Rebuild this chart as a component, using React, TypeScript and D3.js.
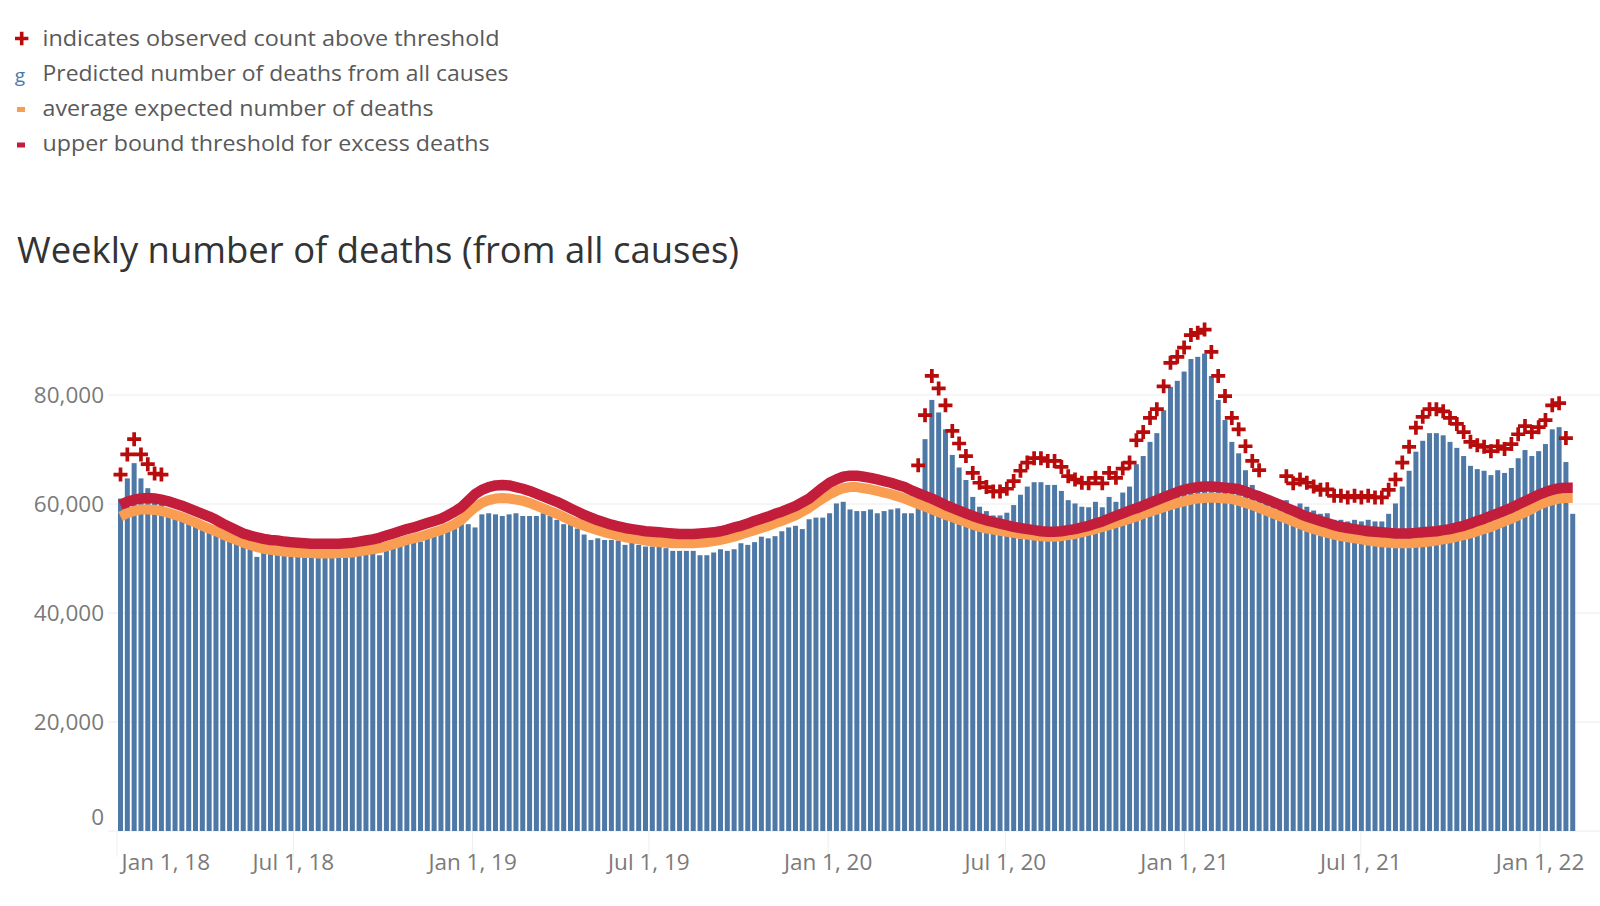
import * as d3 from "d3";

const WIDTH = 1600;
const HEIGHT = 906;

// first bar = week ending Sat Jan 6, 2018; one value per week
const FIRST_WEEK_ENDING = new Date(2018, 0, 6);

const PREDICTED = [
  61000, 64700, 67500, 64700, 62900, 61200, 61000, 58200, 57700, 57300,
  56800, 56300, 55600, 55100, 54600, 54000, 53500, 53000, 52500, 52100,
  50300, 51200, 51100, 50900, 50800, 50800, 50700, 50600, 50600, 50500,
  50500, 50400, 50600, 50600, 50700, 50900, 51100, 51300, 50600, 51800,
  52200, 52600, 53000, 53300, 53100, 54000, 54500, 54900, 55200, 55700,
  56300, 56300, 55700, 58100, 58300, 58100, 57800, 58100, 58300, 57800,
  57800, 57800, 58300, 57800, 57100, 56300, 56300, 55500, 54400, 53400,
  53700, 53400, 53400, 53300, 52500, 52900, 52500, 52200, 52200, 52200,
  51900, 51400, 51400, 51400, 51400, 50600, 50600, 51100, 51700, 51400,
  51700, 52800, 52500, 53000, 54000, 53700, 54100, 55000, 55700, 56000,
  55400, 57200, 57500, 57500, 58300, 60100, 60400, 59000, 58700, 58700,
  59000, 58300, 58700, 59000, 59200, 58300, 58300, 62700, 71900, 79100,
  76800, 73700, 69000, 66700, 64400, 61300, 59500, 58700, 57900, 57900,
  58400, 59800, 61700, 63200, 64000, 64000, 63500, 63500, 62400, 60700,
  60100, 59500, 59400, 60400, 59400, 61300, 60400, 62100, 63200, 67300,
  68800, 71400, 73000, 77200, 81500, 82600, 84300, 86600, 87000, 87600,
  83500, 79100, 75400, 71400, 69300, 66200, 63500, 61800, 60200, 59800,
  59200, 60700, 59400, 60100, 59500, 58800, 58200, 58300, 57100, 57100,
  56800, 57100, 56800, 57100, 56800, 56800, 58200, 60100, 63200, 66100,
  69600, 71600, 73000, 73000, 72600, 71400, 70300, 68800, 67000, 66400,
  66100, 65300, 66200, 65700, 66600, 68400, 69900, 68800, 69700, 71000,
  73700, 74100, 67700, 58200,
];

const EXPECTED = [
  57700, 58300, 58700, 59000, 59000, 58900, 58700, 58400, 58000, 57600,
  57100, 56600, 56000, 55500, 55000, 54400, 53900, 53400, 52900, 52500,
  52100, 51800, 51600, 51400, 51300, 51200, 51100, 51000, 51000, 50900,
  50900, 50900, 51000, 51000, 51100, 51300, 51500, 51700, 51900, 52200,
  52600, 53000, 53400, 53700, 54000, 54400, 54800, 55200, 55700, 56300,
  57100, 58300, 59400, 60200, 60700, 61000, 61100, 61000, 60800, 60600,
  60200, 59700, 59200, 58700, 58200, 57600, 57000, 56500, 56000, 55600,
  55200, 54800, 54500, 54200, 53900, 53700, 53500, 53300, 53100, 53000,
  52900, 52800, 52800, 52800, 52800, 52900, 53000, 53200, 53400, 53700,
  54000, 54400, 54800, 55200, 55600, 56000, 56500, 56900, 57400, 57900,
  58600, 59300, 60200, 61000, 61800, 62400, 62900, 63100, 63100, 62900,
  62700, 62400, 62100, 61800, 61400, 61000, 60500, 60000, 59500, 59000,
  58500, 58000, 57600, 57100, 56700, 56200, 55800, 55500, 55300, 55100,
  54900, 54700, 54500, 54400, 54200, 54100, 54000, 54000, 54100, 54300,
  54500, 54800, 55100, 55400, 55800, 56100, 56500, 56900, 57300, 57700,
  58200, 58600, 59000, 59400, 59800, 60200, 60500, 60800, 61000, 61100,
  61200, 61100, 61000, 60900, 60600, 60200, 59800, 59300, 58800, 58300,
  57800, 57300, 56800, 56300, 55800, 55400, 55000, 54700, 54400, 54100,
  53900, 53700, 53500, 53300, 53100, 53000, 52900, 52800, 52800, 52800,
  52900, 53000, 53100, 53300, 53500, 53700, 54000, 54300, 54600, 55000,
  55400, 55800, 56300, 56800, 57300, 57900, 58500, 59100, 59800, 60300,
  60700, 61000, 61100, 61100,
];

const THRESHOLD = [
  59800, 60400, 60800, 61000, 61100, 61000, 60800, 60500, 60100, 59700,
  59200, 58700, 58200, 57700, 57100, 56400, 55800, 55200, 54600, 54200,
  53900, 53600, 53400, 53300, 53100, 53000, 52900, 52800, 52700, 52700,
  52700, 52700, 52700, 52800, 52900, 53100, 53300, 53500, 53800, 54200,
  54600, 55000, 55400, 55700, 56100, 56500, 56900, 57300, 57900, 58600,
  59400, 60600, 61800, 62600, 63100, 63400, 63500, 63400, 63100, 62800,
  62400, 61900, 61400, 60900, 60400, 59800, 59200, 58600, 58000, 57500,
  57000, 56600, 56200, 55900, 55600, 55400, 55200, 55000, 54900, 54800,
  54700, 54600, 54500, 54500, 54500, 54600, 54700, 54800, 55000, 55300,
  55700, 56000, 56400, 56900, 57300, 57700, 58200, 58600, 59100, 59600,
  60300, 61000, 62000, 63000, 63900, 64500, 65000, 65200, 65200, 65000,
  64800, 64500, 64200, 63900, 63500, 63100, 62500, 62000, 61500, 61000,
  60400, 59800, 59300, 58800, 58300, 57800, 57400, 57000, 56700, 56400,
  56100, 55800, 55600, 55400, 55200, 55000, 54900, 54900, 55000, 55200,
  55400, 55700, 56000, 56400, 56800, 57300, 57800, 58300, 58800, 59200,
  59700, 60200, 60700, 61200, 61700, 62200, 62600, 62900, 63100, 63200,
  63200, 63100, 63000, 62900, 62700, 62300, 61800, 61400, 60900, 60400,
  59900, 59300, 58800, 58200, 57700, 57300, 56900, 56500, 56100, 55800,
  55600, 55400, 55200, 55000, 54900, 54800, 54700, 54600, 54600, 54600,
  54700, 54800, 54900, 55000, 55200, 55400, 55700, 56000, 56400, 56900,
  57300, 57800, 58300, 58800, 59300, 59900, 60500, 61100, 61700, 62200,
  62600, 62900, 63000, 63000,
];

// runs of week indices marked with a "+" (first, last)
const ABOVE_THRESHOLD_RUNS = [
  [0, 6],
  [117, 167],
  [171, 212],
];

const X_TICKS = [
  "2018-01-01", "2018-07-01", "2019-01-01", "2019-07-01", "2020-01-01",
  "2020-07-01", "2021-01-01", "2021-07-01", "2022-01-01",
];
const Y_TICKS = [0, 20000, 40000, 60000, 80000];

const LEGEND_LABELS = [
  "indicates observed count above threshold",
  "Predicted number of deaths from all causes",
  "average expected number of deaths",
  "upper bound threshold for excess deaths",
];

const TITLE = "Weekly number of deaths (from all causes)";

const BLUE = "#4e79a7";
const ORANGE = "#f89d52";
const CRIMSON = "#c21e3c";
const PLUS_RED = "#b80c0c";
const FONT = "'Open Sans', 'Noto Sans', sans-serif";

// "+" sits a fixed distance above its bar, as in the original dashboard
const PLUS_LIFT = 4400;

const PLOT_LEFT = 108;
const BAR_W = 5;

export default function App() {
  const parse = d3.timeParse("%Y-%m-%d");
  const fmt = d3.timeFormat("%b %-d, %y");

  const x = d3
    .scaleTime()
    .domain([new Date(2018, 0, 1), new Date(2022, 0, 1)])
    .range([117.1, 1540.1]);

  const y = d3.scaleLinear().domain([0, 80000]).range([831, 395]);

  const weeks = PREDICTED.map((_, i) => d3.timeDay.offset(FIRST_WEEK_ENDING, 7 * i));
  // bars sit a day and a half before the week-ending date
  const cx = (i: number) => x(d3.timeHour.offset(weeks[i], -36));

  const line = d3
    .line<number>()
    .x((_, i) => cx(i))
    .y((d) => y(d));

  const flagged: number[] = [];
  ABOVE_THRESHOLD_RUNS.forEach(([a, b]) => {
    for (let i = a; i <= b; i++) flagged.push(i);
  });

  const legendBaselines = [46, 81, 116, 151];
  const legendWidths = [457, 466, 391, 447];

  return (
    <>
      <style>{`body{margin:0;background:#fff}`}</style>
      <svg width={WIDTH} height={HEIGHT} style={{ display: "block" }} fontFamily={FONT}>
        {/* legend */}
        <g>
          <path d="M15,38.5H28.4M21.7,31.8V45.2" stroke={PLUS_RED} strokeWidth={3.6} />
          <text x={20} y={82} fontSize={19} fill={BLUE} textAnchor="middle">
            g
          </text>
          <rect x={17} y={107} width={8} height={5} fill={ORANGE} />
          <rect x={17} y={142.5} width={8} height={5} fill={CRIMSON} />
          {LEGEND_LABELS.map((t, i) => (
            <text
              key={t}
              x={42.5}
              y={legendBaselines[i]}
              fontSize={22}
              fill="#595959"
              textLength={legendWidths[i]}
              lengthAdjust="spacingAndGlyphs"
            >
              {t}
            </text>
          ))}
        </g>

        {/* title */}
        <text
          x={17}
          y={263}
          fontSize={37}
          fill="#333"
          textLength={722}
          lengthAdjust="spacingAndGlyphs"
        >
          {TITLE}
        </text>

        {/* gridlines */}
        {Y_TICKS.map((t) => (
          <line key={t} x1={PLOT_LEFT} x2={WIDTH} y1={y(t)} y2={y(t)} stroke="#ececec" />
        ))}
        {X_TICKS.map((s) => {
          const px = x(parse(s) as Date);
          return <line key={s} x1={px} x2={px} y1={y(0)} y2={y(0) + 26} stroke="#eeeeee" />;
        })}

        {/* bars */}
        <g fill={BLUE}>
          {PREDICTED.map((v, i) => (
            <rect key={i} x={cx(i) - BAR_W / 2} y={y(v)} width={BAR_W} height={y(0) - y(v)} />
          ))}
        </g>

        {/* expected + threshold lines */}
        <path
          d={line(EXPECTED) ?? ""}
          fill="none"
          stroke={ORANGE}
          strokeWidth={10}
          strokeLinejoin="round"
        />
        <path
          d={line(THRESHOLD) ?? ""}
          fill="none"
          stroke={CRIMSON}
          strokeWidth={10.5}
          strokeLinejoin="round"
        />

        {/* above-threshold markers */}
        <g stroke={PLUS_RED} strokeWidth={3.7}>
          {flagged.map((i) => {
            const px = cx(i);
            const py = y(PREDICTED[i] + PLUS_LIFT);
            return <path key={i} d={`M${px - 7},${py}H${px + 7}M${px},${py - 7}V${py + 7}`} />;
          })}
        </g>

        {/* y axis labels */}
        {Y_TICKS.map((t) => (
          <text
            key={t}
            x={104}
            y={Math.min(y(t), y(0) - 14)}
            dy="0.35em"
            textAnchor="end"
            fontSize={22.5}
            fill="#7a7a7a"
          >
            {d3.format(",")(t)}
          </text>
        ))}

        {/* x axis labels */}
        {X_TICKS.map((s, i) => {
          const px = x(parse(s) as Date);
          return (
            <text
              key={s}
              x={i === 0 ? px + 4.5 : px}
              y={862}
              dy="0.35em"
              textAnchor={i === 0 ? "start" : "middle"}
              fontSize={22.5}
              fill="#7a7a7a"
            >
              {fmt(parse(s) as Date)}
            </text>
          );
        })}
      </svg>
    </>
  );
}
